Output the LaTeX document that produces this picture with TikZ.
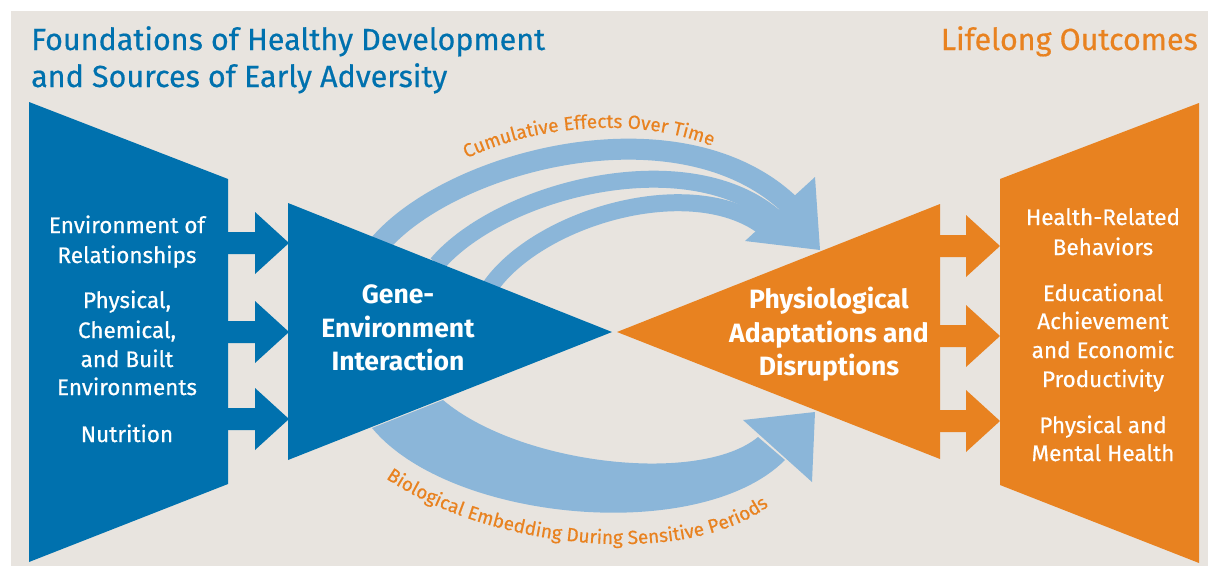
\documentclass[tikz,border=0pt]{standalone}
\usepackage{fontspec}
\setmainfont{Fira Sans}
\newfontfamily\medfont{Fira Sans}[FakeBold=0.5]
\usetikzlibrary{decorations.text}
\definecolor{dblue}{RGB}{0,113,174}
\definecolor{org}{RGB}{232,130,32}
\definecolor{lblue}{RGB}{139,182,217}
\definecolor{bg}{RGB}{232,228,223}
\tikzset{
  sidetxt/.style={text=white,anchor=base,inner sep=0pt,font=\medfont\fontsize{22.5}{22.5}\selectfont},
  midtxt/.style={text=white,anchor=base,inner sep=0pt,font=\bfseries\fontsize{26.5}{26.5}\selectfont},
  titletxt/.style={anchor=base west,inner sep=0pt,font=\medfont\fontsize{30.5}{30.5}\selectfont},
  band/.style={lblue,line width=#1},
  arclabel/.style={decorate,decoration={text along path,text align=center,
     text={|\medfont\fontsize{19}{19}\selectfont\color{org}|#1}}}
}
\newcommand\blockarr[5]{% color, x0, xbase, xtip, yc
  \fill[#1] (#2,#5-11) -- (#3,#5-11) -- (#3,#5-31) -- (#4,#5) -- (#3,#5+31) -- (#3,#5+11) -- (#2,#5+11) -- cycle;}
\begin{document}
\begin{tikzpicture}[x=1pt,y=-1pt]
\useasboundingbox (0,0) rectangle (1208,566);
\fill[white] (0,0) rectangle (1208,566);
\fill[bg] (11,11) rectangle (1208,566);

% titles
\node[titletxt,text=dblue] (t1) at (31,50) {Foundations of Healthy Development};
\node[titletxt,text=dblue] (t2) at (31,87) {and Sources of Early Adversity};
\node[titletxt,text=org,anchor=base east] (t3) at (1198,50) {Lifelong Outcomes};

% upper curved arrows
\draw[band=21pt] (378,246) .. controls (450,160) and (680,100) .. (790,205);
\draw[band=17pt] (437,264) .. controls (500,190) and (690,140) .. (778,220);
\draw[band=17pt] (490,287) .. controls (540,215) and (700,170) .. (770,232);
\fill[lblue] (745,241) -- (815,177) -- (820,250) -- cycle;

% lower curved arrow
\fill[lblue] (443,400) .. controls (520,465) and (700,485) .. (758,437) -- (785,460)
   .. controls (700,545) and (450,522) .. (372,428) -- cycle;
\fill[lblue] (743,420) -- (815,412) -- (812,482) -- cycle;

% arc labels
\path[arclabel={Cumulative Effects Over Time}] (452,166) .. controls (530,122) and (650,114) .. (727,153);
\path[arclabel={Biological Embedding During Sensitive Periods}] (362,460) .. controls (470,555) and (720,578) .. (790,485);

% blue shapes
\fill[dblue] (29,102) -- (228,179) -- (228,484) -- (29,562) -- cycle;
\fill[dblue] (288,203) -- (612,332) -- (288,460) -- cycle;
\blockarr{dblue}{227}{255}{289}{243}
\blockarr{dblue}{227}{255}{289}{332}
\blockarr{dblue}{227}{255}{289}{419}

% orange shapes
\fill[org] (617,332) -- (940,204) -- (940,459) -- cycle;
\blockarr{org}{939}{966}{1000}{246}
\blockarr{org}{939}{966}{1000}{336}
\blockarr{org}{939}{966}{1000}{421}
\fill[org] (1000,179) -- (1199,103) -- (1199,563) -- (1000,485) -- cycle;

% left texts
\node[sidetxt] (l1) at (127,233) {Environment of};
\node[sidetxt] (l2) at (127,263) {Relationships};
\node[sidetxt] (l3) at (127,308) {Physical,};
\node[sidetxt] (l4) at (127,338) {Chemical,};
\node[sidetxt] (l5) at (127,367) {and Built};
\node[sidetxt] (l6) at (127,395) {Environments};
\node[sidetxt] (l7) at (127,442) {Nutrition};

% center texts
\node[midtxt] (g1) at (398,303) {Gene-};
\node[midtxt] (g2) at (398,337) {Environment};
\node[midtxt] (g3) at (398,370) {Interaction};
\node[midtxt] (p1) at (829,308) {Physiological};
\node[midtxt] (p2) at (829,342) {Adaptations and};
\node[midtxt] (p3) at (829,375) {Disruptions};

% right texts
\node[sidetxt] (r1) at (1103,225) {Health-Related};
\node[sidetxt] (r2) at (1103,255) {Behaviors};
\node[sidetxt] (r3) at (1103,301) {Educational};
\node[sidetxt] (r4) at (1103,329) {Achievement};
\node[sidetxt] (r5) at (1103,358) {and Economic};
\node[sidetxt] (r6) at (1103,387) {Productivity};
\node[sidetxt] (r7) at (1103,433) {Physical and};
\node[sidetxt] (r8) at (1103,461) {Mental Health};
\end{tikzpicture}
\end{document}
